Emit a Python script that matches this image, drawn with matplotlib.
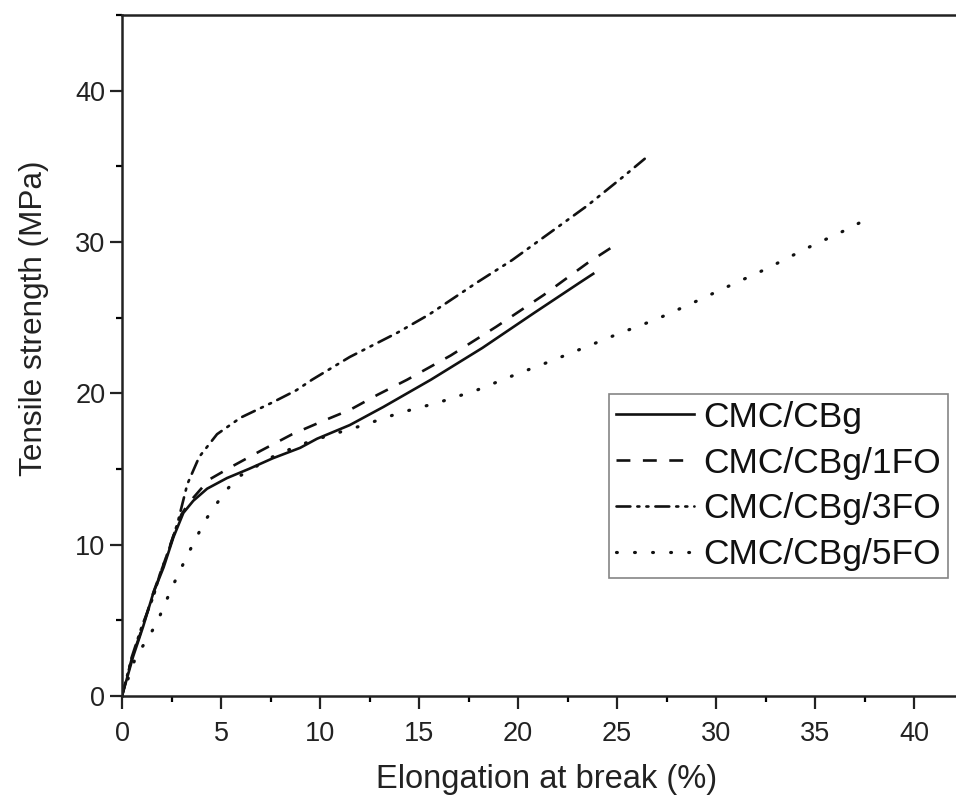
import matplotlib
matplotlib.use("Agg")
import matplotlib.pyplot as plt
from matplotlib.ticker import MultipleLocator

plt.rcParams['font.family'] = ['Liberation Sans', 'DejaVu Sans']
plt.rcParams['lines.scale_dashes'] = False

# ---- data ----
labels = ["CMC/CBg", "CMC/CBg/1FO", "CMC/CBg/3FO", "CMC/CBg/5FO"]

x_cbg = [0, 0.56, 1.07, 1.58, 2.1, 2.6, 3.1, 3.6, 4.3, 5.3, 6.4, 7.6, 9.0, 9.85,
         11.5, 13.2, 15.6, 18.2, 20.8, 23.1, 23.8]
y_cbg = [0, 2.6, 4.6, 6.8, 8.5, 10.5, 12.1, 12.9, 13.7, 14.4, 15.0, 15.7, 16.4, 17.0,
         17.9, 19.1, 20.9, 23.0, 25.3, 27.3, 27.9]

x_1fo = [0, 0.5, 1.05, 1.6, 2.1, 2.6, 3.0, 3.4, 4.4, 5.6, 7.0, 8.6, 10.2, 11.5,
         12.9, 14.4, 16.6, 18.9, 21.3, 23.5, 25.15]
y_1fo = [0, 2.5, 4.6, 6.9, 8.7, 10.6, 12.0, 12.8, 14.3, 15.2, 16.2, 17.3, 18.2, 18.9,
         19.9, 20.9, 22.5, 24.4, 26.5, 28.6, 30.0]

x_3fo = [0, 0.5, 1.0, 1.6, 1.9, 2.4, 2.8, 3.3, 3.9, 4.8, 6.0, 7.6, 8.8, 9.6,
         11.5, 13.9, 15.5, 17.9, 19.7, 21.6, 23.5, 25.3, 26.4]
y_3fo = [0, 2.6, 4.6, 6.6, 8.0, 9.8, 11.4, 14.0, 15.8, 17.3, 18.4, 19.4, 20.2, 20.9,
         22.4, 24.0, 25.2, 27.3, 28.8, 30.6, 32.4, 34.3, 35.5]

x_5fo = [0, 0.7, 1.2, 1.75, 2.5, 3.3, 4.2, 5.2, 5.9, 7.6, 9.0, 10.4, 12.2, 14.0,
         16.0, 17.9, 19.8, 21.6, 23.5, 25.0, 27.0, 28.7, 30.5, 32.5, 34.6, 36.4, 37.3]
y_5fo = [0, 2.6, 3.6, 4.8, 7.1, 9.3, 11.6, 13.5, 14.5, 15.8, 16.6, 17.2, 17.9, 18.7,
         19.4, 20.2, 21.2, 22.1, 23.1, 23.9, 24.9, 25.9, 27.0, 28.2, 29.6, 30.7, 31.3]

x_ticks = [0, 5, 10, 15, 20, 25, 30, 35, 40]
y_ticks = [0, 10, 20, 30, 40]

# ---- figure ----
W, H = 956, 799
fig = plt.figure(figsize=(W / 100, H / 100), dpi=100)
ax_left, ax_bottom, ax_top = 122, 696, 15
xmax = 42.2
px_per_x = 19.8
px_per_y = 15.15
ax_right = ax_left + xmax * px_per_x
ax_w = ax_right - ax_left
ax_h = ax_bottom - ax_top
ax = fig.add_axes([ax_left / W, (H - ax_bottom) / H, ax_w / W, ax_h / H])

lw = 1.9
c = '#111111'
ax.plot(x_cbg, y_cbg, color=c, lw=lw, linestyle='-', label=labels[0])
ax.plot(x_1fo, y_1fo, color=c, lw=lw, linestyle=(0, (10, 9)), label=labels[1])
ax.plot(x_3fo, y_3fo, color=c, lw=lw, linestyle=(0, (10, 5, 1.5, 5, 1.5, 5)),
        dash_capstyle='round', label=labels[2])
ax.plot(x_5fo, y_5fo, color=c, lw=2.3, linestyle=(0, (0.6, 12.4)),
        dash_capstyle='round', label=labels[3])

ax.set_xlim(0, xmax)
ax.set_ylim(0, 45)
ax.set_xticks(x_ticks)
ax.set_yticks(y_ticks)
ax.xaxis.set_minor_locator(MultipleLocator(2.5))
ax.yaxis.set_minor_locator(MultipleLocator(5))
ax.tick_params(which='major', direction='out', length=9, width=1.6, labelsize=19.5,
               colors='#222222', pad=9)
ax.tick_params(which='minor', direction='out', length=4.5, width=1.6)
ax.tick_params(axis='y', which='major', pad=3)
ax.tick_params(top=False, right=False)

for s in ['left', 'bottom', 'top']:
    ax.spines[s].set_linewidth(1.8)
    ax.spines[s].set_color('#222222')
ax.spines['right'].set_visible(False)

ax.set_xlabel("Elongation at break (%)", fontsize=23.5, color='#222222')
ax.xaxis.set_label_coords((547 - ax_left) / ax_w, -(764 - ax_bottom) / ax_h)
ax.set_ylabel("Tensile strength (MPa)", fontsize=22.7, color='#222222')
ax.yaxis.set_label_coords(-(ax_left - 49) / ax_w, 0.555)

leg = ax.legend(loc='lower right',
                bbox_to_anchor=((948 - ax_left) / px_per_x, (ax_bottom - 578) / px_per_y),
                bbox_transform=ax.transData, borderaxespad=0, fontsize=25.5,
                handlelength=2.2, handletextpad=0.25, labelspacing=0.36,
                borderpad=0.2, fancybox=False, frameon=True)
leg.get_frame().set_edgecolor('#666666')
leg.get_frame().set_linewidth(1.2)
for t in leg.get_texts():
    t.set_color('#111111')

fig.savefig("out.png", dpi=100)
